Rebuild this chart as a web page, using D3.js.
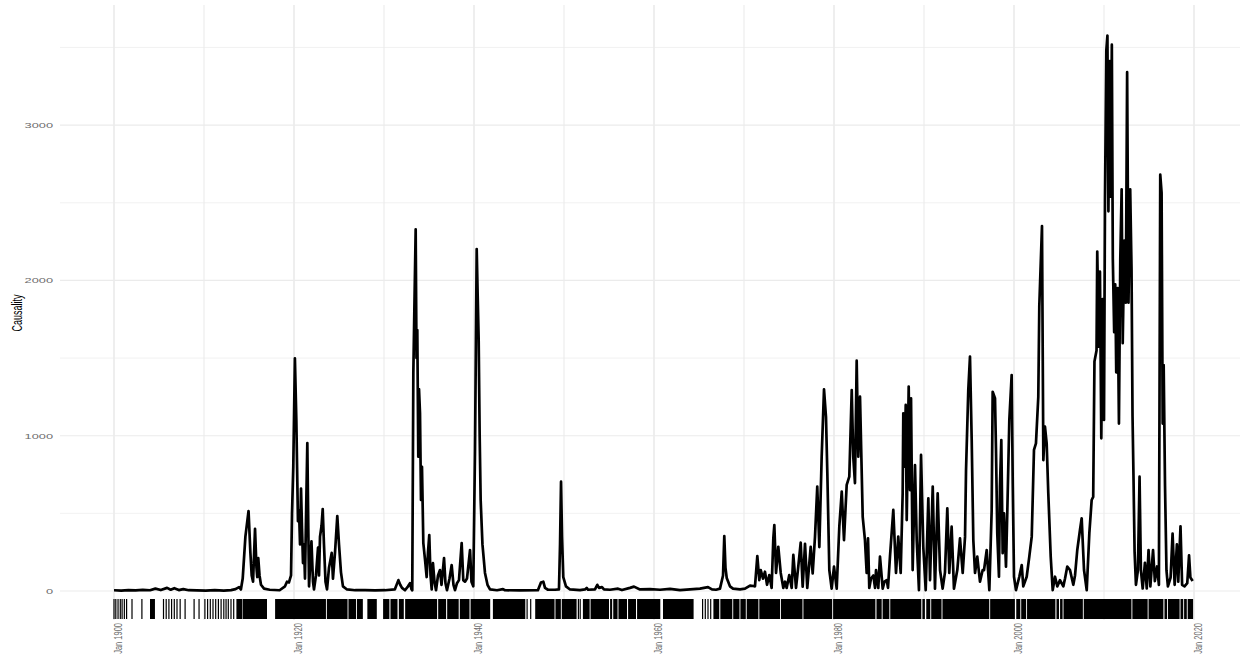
<!DOCTYPE html>
<html>
<head>
<meta charset="utf-8">
<script src="https://cdn.jsdelivr.net/npm/d3@7/dist/d3.min.js"></script>
<style>
  html, body { margin: 0; padding: 0; background: #ffffff; }
  svg { display: block; }
  .tick_label { font-family: "Liberation Sans", Arial, sans-serif; fill: #6b6b6b; }
  .axis_title { font-family: "Liberation Sans", Arial, sans-serif; fill: #000000; }
</style>
</head>
<body>
<div id="chart"></div>
<script>

    // Monthly causality series as [decimal year, value]
    var causality = [
        [1900.0,5],[1900.8,3],[1901.6,6],[1902.4,4],[1903.2,7],[1904.0,5],[1904.6,15],[1905.2,6],
        [1905.9,20],[1906.3,8],[1906.7,18],[1907.2,6],[1907.7,12],[1908.3,5],[1909.2,4],[1910.2,3],
        [1911.2,5],[1912.2,3],[1913.0,6],[1913.5,12],[1913.9,25],[1914.1,10],[1914.3,80],[1914.6,350],
        [1914.95,515],[1915.15,250],[1915.3,100],[1915.45,60],[1915.67,400],[1915.83,150],[1915.92,90],
        [1916.03,212],[1916.17,100],[1916.33,40],[1916.67,15],[1917.3,8],[1918.4,5],[1919.0,30],
        [1919.22,60],[1919.44,55],[1919.67,100],[1919.78,500],[1919.92,800],[1920.1,1498],[1920.26,1100],
        [1920.37,700],[1920.44,450],[1920.56,520],[1920.67,300],[1920.78,660],[1920.89,400],[1921.0,180],
        [1921.11,300],[1921.22,80],[1921.33,450],[1921.48,953],[1921.59,400],[1921.67,30],[1921.78,150],
        [1921.94,320],[1922.11,60],[1922.22,10],[1922.44,100],[1922.67,280],[1922.78,100],[1922.89,350],
        [1923.06,420],[1923.19,528],[1923.33,300],[1923.5,60],[1923.67,10],[1923.89,150],[1924.19,245],
        [1924.33,80],[1924.56,250],[1924.81,483],[1925.0,300],[1925.22,120],[1925.44,30],[1925.89,10],
        [1926.8,5],[1927.9,5],[1929.0,4],[1930.1,5],[1931.2,10],[1931.6,70],[1931.8,40],[1932.0,20],
        [1932.33,5],[1932.67,30],[1932.89,50],[1933.06,10],[1933.14,5],[1933.26,1404],[1933.37,1800],
        [1933.52,2329],[1933.61,1500],[1933.7,1680],[1933.81,865],[1933.89,1300],[1934.0,1146],
        [1934.11,586],[1934.22,800],[1934.37,309],[1934.56,200],[1934.74,90],[1934.89,250],[1935.03,360],
        [1935.17,100],[1935.3,10],[1935.44,180],[1935.61,60],[1935.78,5],[1936.0,100],[1936.22,135],
        [1936.39,40],[1936.67,212],[1936.83,50],[1937.0,5],[1937.28,80],[1937.52,167],[1937.72,40],
        [1937.89,5],[1938.11,50],[1938.33,70],[1938.63,309],[1938.81,70],[1939.0,60],[1939.22,80],
        [1939.56,264],[1939.72,60],[1939.92,30],[1940.11,900],[1940.3,2202],[1940.41,1900],[1940.52,1616],
        [1940.63,1000],[1940.74,586],[1940.94,300],[1941.22,116],[1941.5,40],[1941.78,10],[1942.56,5],
        [1943.22,12],[1943.44,5],[1945.1,4],[1947.1,5],[1947.44,55],[1947.7,60],[1947.89,20],[1948.22,8],
        [1949.0,8],[1949.44,10],[1949.56,300],[1949.67,704],[1949.78,350],[1949.92,90],[1950.22,30],
        [1950.67,10],[1951.78,6],[1952.33,10],[1952.52,20],[1952.67,8],[1953.44,10],[1953.7,40],
        [1953.89,20],[1954.22,25],[1954.44,10],[1955.11,8],[1956.0,15],[1956.44,6],[1957.33,20],
        [1957.78,28],[1958.44,10],[1959.56,12],[1960.67,8],[1961.78,14],[1962.89,6],[1964.0,10],
        [1965.11,15],[1966.0,25],[1966.44,10],[1966.89,8],[1967.33,15],[1967.67,100],[1967.81,354],
        [1967.94,150],[1968.08,84],[1968.44,30],[1968.78,15],[1969.56,10],[1970.11,15],[1970.67,35],
        [1971.03,32],[1971.22,30],[1971.48,225],[1971.7,70],[1971.86,135],[1972.11,80],[1972.33,124],
        [1972.56,40],[1972.81,103],[1973.07,20],[1973.26,341],[1973.37,425],[1973.56,116],[1973.81,285],
        [1974.08,116],[1974.37,20],[1974.56,60],[1974.74,20],[1975.03,103],[1975.3,20],[1975.48,232],
        [1975.78,20],[1976.03,157],[1976.3,311],[1976.52,28],[1976.78,303],[1977.03,20],[1977.41,285],
        [1977.63,114],[1977.89,350],[1978.14,672],[1978.37,283],[1978.63,865],[1978.89,1299],
        [1979.11,1122],[1979.26,758],[1979.48,135],[1979.74,15],[1980.0,157],[1980.3,15],[1980.59,414],
        [1980.86,640],[1981.11,328],[1981.41,683],[1981.7,736],[1981.97,1294],[1982.14,865],[1982.33,695],
        [1982.52,1483],[1982.7,865],[1982.89,1251],[1983.19,478],[1983.44,328],[1983.63,116],
        [1983.78,339],[1983.92,20],[1984.11,80],[1984.37,100],[1984.56,20],[1984.67,135],[1984.92,20],
        [1985.11,221],[1985.41,15],[1985.61,60],[1985.86,70],[1986.0,20],[1986.22,221],[1986.59,522],
        [1986.89,116],[1987.14,350],[1987.41,116],[1987.63,629],[1987.7,1144],[1987.83,800],
        [1987.97,1198],[1988.08,457],[1988.3,1316],[1988.44,650],[1988.56,1241],[1988.74,135],
        [1989.0,811],[1989.19,328],[1989.44,6],[1989.67,876],[1989.92,285],[1990.19,6],[1990.48,597],
        [1990.67,70],[1990.97,672],[1991.22,15],[1991.52,629],[1991.78,135],[1992.07,15],[1992.33,120],
        [1992.59,532],[1992.81,116],[1993.07,414],[1993.33,15],[1993.7,135],[1994.0,339],[1994.3,116],
        [1994.56,350],[1994.67,779],[1994.92,1294],[1995.11,1509],[1995.3,972],[1995.48,328],
        [1995.67,116],[1995.92,221],[1996.22,60],[1996.52,135],[1996.67,135],[1996.97,264],[1997.26,6],
        [1997.52,522],[1997.63,1283],[1997.89,1241],[1998.0,908],[1998.14,373],[1998.33,92],
        [1998.44,672],[1998.59,972],[1998.74,243],[1998.89,500],[1999.11,157],[1999.26,522],
        [1999.48,1101],[1999.74,1391],[1999.86,694],[2000.0,92],[2000.22,6],[2000.59,92],[2000.86,167],
        [2001.03,30],[2001.41,92],[2001.7,221],[2001.97,350],[2002.22,908],[2002.44,951],[2002.7,1251],
        [2002.81,1831],[2002.97,2110],[2003.11,2350],[2003.26,843],[2003.44,1058],[2003.63,951],
        [2003.81,629],[2004.08,221],[2004.3,6],[2004.56,92],[2004.81,30],[2005.11,70],[2005.48,30],
        [2005.67,80],[2005.92,157],[2006.22,135],[2006.59,40],[2006.78,100],[2007.03,264],[2007.33,393],
        [2007.52,468],[2007.78,135],[2008.08,6],[2008.37,371],[2008.63,586],[2008.8,606],[2008.94,1478],
        [2009.17,1549],[2009.25,2186],[2009.43,1573],[2009.55,2056],[2009.7,983],[2009.85,1879],
        [2010.0,1101],[2010.11,2516],[2010.26,3483],[2010.38,3577],[2010.49,2445],[2010.64,3412],
        [2010.75,2540],[2010.87,3518],[2010.98,2139],[2011.13,1667],[2011.25,1974],[2011.36,1408],
        [2011.51,1950],[2011.66,1078],[2011.81,2139],[2011.96,2587],[2012.08,1596],[2012.26,2257],
        [2012.42,1856],[2012.57,3341],[2012.72,1856],[2012.91,2587],[2013.06,2068],[2013.17,1125],
        [2013.28,724],[2013.4,252],[2013.55,40],[2013.77,134],[2013.95,736],[2014.1,134],[2014.3,16],
        [2014.55,182],[2014.75,16],[2014.95,264],[2015.15,30],[2015.45,264],[2015.65,64],[2015.9,158],
        [2016.1,40],[2016.25,2681],[2016.4,2563],[2016.52,1078],[2016.63,1455],[2016.78,677],
        [2016.94,134],[2017.1,30],[2017.4,87],[2017.62,370],[2017.85,40],[2018.1,300],[2018.25,60],
        [2018.5,417],[2018.68,40],[2018.95,30],[2019.25,50],[2019.45,230],[2019.6,87],[2019.85,64]
    ];

    // Rug: continuous runs of event months and single event months (decimal years)
    var rugSpans = [
        [1904.0,1904.55],[1913.6,1914.25],[1914.3,1917.0],
        [1917.9,1923.55],[1923.65,1925.95],[1926.05,1926.9],[1927.0,1927.65],[1928.15,1929.2],
        [1929.9,1930.6],[1930.72,1931.5],[1931.65,1932.2],[1932.35,1935.9],[1936.02,1936.9],
        [1937.02,1938.3],[1938.42,1939.5],[1939.62,1941.8],[1942.1,1945.7],
        [1946.8,1948.95],[1949.05,1949.65],[1949.75,1951.4],
        [1952.1,1952.85],[1952.95,1955.0],[1955.12,1955.35],[1955.47,1955.95],[1956.05,1957.0],
        [1957.12,1958.0],[1958.12,1960.7],[1961.0,1964.4],
        [1966.6,1967.25],[1967.37,1968.7],[1968.8,1969.5],[1969.6,1970.2],[1970.3,1971.6],
        [1971.7,1974.0],[1974.1,1976.5],[1976.6,1979.8],[1979.9,1984.6],[1984.72,1985.3],
        [1985.4,1986.15],[1986.25,1989.7],[1989.82,1990.1],[1990.25,1990.7],[1990.8,1991.95],
        [1992.05,1997.25],[1997.35,2000.1],[2000.25,2000.7],[2000.8,2001.35],[2001.45,2004.6],
        [2004.72,2005.0],[2005.12,2005.4],[2005.5,2007.65],[2007.75,2013.05],[2013.15,2014.85],
        [2014.95,2016.6],[2016.72,2017.0],[2017.1,2018.4],[2018.5,2018.8],[2018.9,2019.2],
        [2019.3,2019.9]
    ];
    var rugTicks = [
        1900.0,1900.2,1900.45,1900.7,1900.9,1901.15,1901.4,1902.0,1903.1,
        1905.5,1905.8,1906.1,1906.4,1906.7,1907.0,1907.35,1907.9,1908.9,1909.45,
        1910.1,1910.4,1910.7,1911.0,1911.3,1911.6,1911.9,1912.2,1912.45,1912.7,1913.0,1913.3,
        1945.9,1946.3,1951.6,1951.8,1965.4,1965.7,1966.0,1966.3
    ];

    // Axis ticks
    var xMajor = [1900, 1920, 1940, 1960, 1980, 2000, 2020];
    var xMinor = [1910, 1930, 1950, 1970, 1990, 2010];
    var yMajor = [0, 1000, 2000, 3000];
    var yMinor = [500, 1500, 2500, 3500];

    var width = 1244, height = 654;
    var panel = { left: 60, right: 1240, top: 5, bottom: 620 };
    var stretch = 1.6;   // picture was rendered with horizontally stretched text

    var xScale = d3.scaleLinear().domain([1900, 2020]).range([114, 1194]);
    var yScale = d3.scaleLinear().domain([0, 3000]).range([591, 125.1]);

    var svg = d3.select("#chart").append("svg")
                .attr("width", width)
                .attr("height", height);

    // Grid (minor thinner than major, same grey)
    var grid = svg.append("g").attr("class", "grid");

    grid.selectAll(".ygrid_minor").data(yMinor).enter().append("line")
        .attr("x1", panel.left).attr("x2", panel.right)
        .attr("y1", function(d){ return yScale(d); })
        .attr("y2", function(d){ return yScale(d); })
        .attr("stroke", "#ebebeb").attr("stroke-width", 0.7);
    grid.selectAll(".ygrid_major").data(yMajor).enter().append("line")
        .attr("x1", panel.left).attr("x2", panel.right)
        .attr("y1", function(d){ return yScale(d); })
        .attr("y2", function(d){ return yScale(d); })
        .attr("stroke", "#ebebeb").attr("stroke-width", 1.1);
    grid.selectAll(".xgrid_minor").data(xMinor).enter().append("line")
        .attr("y1", panel.top).attr("y2", panel.bottom)
        .attr("x1", function(d){ return xScale(d); })
        .attr("x2", function(d){ return xScale(d); })
        .attr("stroke", "#ebebeb").attr("stroke-width", 1.1);
    grid.selectAll(".xgrid_major").data(xMajor).enter().append("line")
        .attr("y1", panel.top).attr("y2", panel.bottom)
        .attr("x1", function(d){ return xScale(d); })
        .attr("x2", function(d){ return xScale(d); })
        .attr("stroke", "#ebebeb").attr("stroke-width", 1.7);

    // Rug along the bottom of the panel
    var rugTop = 599, rugBottom = 619;
    var rug = svg.append("g").attr("class", "rug");
    rug.selectAll("rect").data(rugSpans).enter().append("rect")
       .attr("x", function(d){ return xScale(d[0]); })
       .attr("width", function(d){ return Math.max(1, xScale(d[1]) - xScale(d[0])); })
       .attr("y", rugTop)
       .attr("height", rugBottom - rugTop)
       .attr("fill", "#000000");
    rug.selectAll("line").data(rugTicks).enter().append("line")
       .attr("x1", function(d){ return xScale(d); })
       .attr("x2", function(d){ return xScale(d); })
       .attr("y1", rugTop).attr("y2", rugBottom)
       .attr("stroke", "#000000").attr("stroke-width", 1.2);

    // Series line
    var line = d3.line()
                 .x(function(d){ return xScale(d[0]); })
                 .y(function(d){ return yScale(d[1]); });

    svg.append("path")
       .datum(causality)
       .attr("d", line)
       .attr("fill", "none")
       .attr("stroke", "#000000")
       .attr("stroke-width", 2.7)
       .attr("stroke-linejoin", "round");

    // Y tick labels
    svg.selectAll(".ytick").data(yMajor).enter().append("text")
       .attr("class", "tick_label")
       .attr("transform", function(d){ return "translate(53," + yScale(d) + ") scale(" + stretch + ",1)"; })
       .attr("text-anchor", "end")
       .attr("dominant-baseline", "central")
       .style("font-size", "8px")
       .text(function(d){ return d; });

    // X tick labels, rotated
    svg.selectAll(".xtick").data(xMajor).enter().append("text")
       .attr("class", "tick_label")
       .attr("transform", function(d){ return "translate(" + (xScale(d) + 4) + ",623) scale(" + (stretch - 0.1) + ",1) rotate(-90)"; })
       .attr("text-anchor", "end")
       .attr("dominant-baseline", "central")
       .style("font-size", "7.5px")
       .text(function(d){ return "Jan " + d; });

    // Y axis title
    svg.append("text")
       .attr("class", "axis_title")
       .attr("transform", "translate(17,313) scale(1.7,1) rotate(-90)")
       .attr("text-anchor", "middle")
       .attr("dominant-baseline", "central")
       .style("font-size", "9px")
       .text("Causality");

</script>
</body>
</html>
